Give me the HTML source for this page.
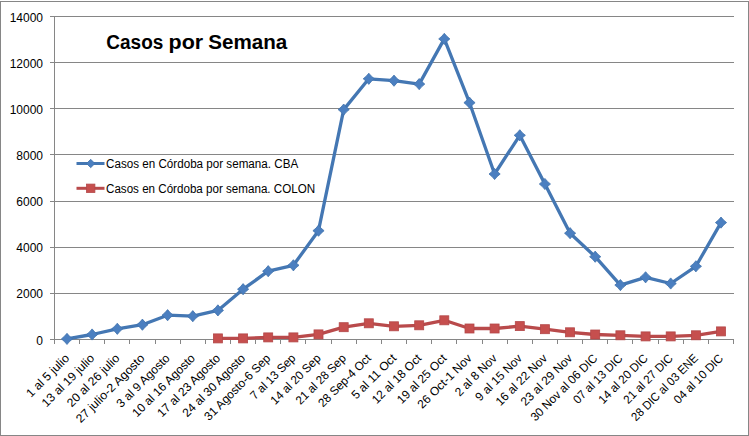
<!DOCTYPE html><html><head><meta charset="utf-8"><style>html,body{margin:0;padding:0;background:#fff;}svg{display:block;}text{font-family:"Liberation Sans",sans-serif;}</style></head><body>
<svg width="749" height="436" viewBox="0 0 749 436">
<rect x="0" y="0" width="749" height="436" fill="#fff"/>
<rect x="0.5" y="1.5" width="748" height="434" fill="none" stroke="#868686" stroke-width="1"/>
<g stroke="#868686" stroke-width="1" shape-rendering="crispEdges"><line x1="50" y1="339.5" x2="733.6" y2="339.5"/><line x1="50" y1="293.5" x2="733.6" y2="293.5"/><line x1="50" y1="247.5" x2="733.6" y2="247.5"/><line x1="50" y1="201.5" x2="733.6" y2="201.5"/><line x1="50" y1="154.5" x2="733.6" y2="154.5"/><line x1="50" y1="108.5" x2="733.6" y2="108.5"/><line x1="50" y1="62.5" x2="733.6" y2="62.5"/><line x1="50" y1="16.5" x2="733.6" y2="16.5"/><line x1="54.5" y1="16" x2="54.5" y2="344"/><line x1="54.5" y1="339" x2="54.5" y2="344"/><line x1="79.5" y1="339" x2="79.5" y2="344"/><line x1="104.5" y1="339" x2="104.5" y2="344"/><line x1="129.5" y1="339" x2="129.5" y2="344"/><line x1="155.5" y1="339" x2="155.5" y2="344"/><line x1="180.5" y1="339" x2="180.5" y2="344"/><line x1="205.5" y1="339" x2="205.5" y2="344"/><line x1="230.5" y1="339" x2="230.5" y2="344"/><line x1="255.5" y1="339" x2="255.5" y2="344"/><line x1="280.5" y1="339" x2="280.5" y2="344"/><line x1="305.5" y1="339" x2="305.5" y2="344"/><line x1="331.5" y1="339" x2="331.5" y2="344"/><line x1="356.5" y1="339" x2="356.5" y2="344"/><line x1="381.5" y1="339" x2="381.5" y2="344"/><line x1="406.5" y1="339" x2="406.5" y2="344"/><line x1="431.5" y1="339" x2="431.5" y2="344"/><line x1="456.5" y1="339" x2="456.5" y2="344"/><line x1="482.5" y1="339" x2="482.5" y2="344"/><line x1="507.5" y1="339" x2="507.5" y2="344"/><line x1="532.5" y1="339" x2="532.5" y2="344"/><line x1="557.5" y1="339" x2="557.5" y2="344"/><line x1="582.5" y1="339" x2="582.5" y2="344"/><line x1="607.5" y1="339" x2="607.5" y2="344"/><line x1="632.5" y1="339" x2="632.5" y2="344"/><line x1="658.5" y1="339" x2="658.5" y2="344"/><line x1="683.5" y1="339" x2="683.5" y2="344"/><line x1="708.5" y1="339" x2="708.5" y2="344"/><line x1="733.5" y1="339" x2="733.5" y2="344"/></g>
<text x="43" y="344.5" font-size="12" text-anchor="end" fill="#000">0</text>
<text x="43" y="298.4" font-size="12" text-anchor="end" fill="#000">2000</text>
<text x="43" y="252.2" font-size="12" text-anchor="end" fill="#000">4000</text>
<text x="43" y="206.1" font-size="12" text-anchor="end" fill="#000">6000</text>
<text x="43" y="159.9" font-size="12" text-anchor="end" fill="#000">8000</text>
<text x="43" y="113.8" font-size="12" text-anchor="end" fill="#000">10000</text>
<text x="43" y="67.6" font-size="12" text-anchor="end" fill="#000">12000</text>
<text x="43" y="21.5" font-size="12" text-anchor="end" fill="#000">14000</text>
<text transform="translate(70.0,359.0) rotate(-45)" font-size="12" text-anchor="end" textLength="55.3" lengthAdjust="spacingAndGlyphs" fill="#000">1 al 5 julio</text>
<text transform="translate(95.1,359.0) rotate(-45)" font-size="12" text-anchor="end" textLength="68.8" lengthAdjust="spacingAndGlyphs" fill="#000">13 al 19 julio</text>
<text transform="translate(120.3,359.0) rotate(-45)" font-size="12" text-anchor="end" textLength="68.8" lengthAdjust="spacingAndGlyphs" fill="#000">20 al 26 julio</text>
<text transform="translate(145.4,359.0) rotate(-45)" font-size="12" text-anchor="end" textLength="91.4" lengthAdjust="spacingAndGlyphs" fill="#000">27 julio-2 Agosto</text>
<text transform="translate(170.6,359.0) rotate(-45)" font-size="12" text-anchor="end" textLength="69.7" lengthAdjust="spacingAndGlyphs" fill="#000">3 al 9 Agosto</text>
<text transform="translate(195.8,359.0) rotate(-45)" font-size="12" text-anchor="end" textLength="83.2" lengthAdjust="spacingAndGlyphs" fill="#000">10 al 16 Agosto</text>
<text transform="translate(220.9,359.0) rotate(-45)" font-size="12" text-anchor="end" textLength="83.2" lengthAdjust="spacingAndGlyphs" fill="#000">17 al 23 Agosto</text>
<text transform="translate(246.1,359.0) rotate(-45)" font-size="12" text-anchor="end" textLength="83.2" lengthAdjust="spacingAndGlyphs" fill="#000">24 al 30 Agosto</text>
<text transform="translate(271.2,359.0) rotate(-45)" font-size="12" text-anchor="end" textLength="87.9" lengthAdjust="spacingAndGlyphs" fill="#000">31 Agosto-6 Sep</text>
<text transform="translate(296.4,359.0) rotate(-45)" font-size="12" text-anchor="end" textLength="58.5" lengthAdjust="spacingAndGlyphs" fill="#000">7 al 13 Sep</text>
<text transform="translate(321.5,359.0) rotate(-45)" font-size="12" text-anchor="end" textLength="65.3" lengthAdjust="spacingAndGlyphs" fill="#000">14 al 20 Sep</text>
<text transform="translate(346.7,359.0) rotate(-45)" font-size="12" text-anchor="end" textLength="65.3" lengthAdjust="spacingAndGlyphs" fill="#000">21 al 28 Sep</text>
<text transform="translate(371.8,359.0) rotate(-45)" font-size="12" text-anchor="end" textLength="69.1" lengthAdjust="spacingAndGlyphs" fill="#000">28 Sep-4 Oct</text>
<text transform="translate(397.0,359.0) rotate(-45)" font-size="12" text-anchor="end" textLength="57.7" lengthAdjust="spacingAndGlyphs" fill="#000">5 al 11 Oct</text>
<text transform="translate(422.2,359.0) rotate(-45)" font-size="12" text-anchor="end" textLength="64.4" lengthAdjust="spacingAndGlyphs" fill="#000">12 al 18 Oct</text>
<text transform="translate(447.3,359.0) rotate(-45)" font-size="12" text-anchor="end" textLength="64.4" lengthAdjust="spacingAndGlyphs" fill="#000">19 al 25 Oct</text>
<text transform="translate(472.5,359.0) rotate(-45)" font-size="12" text-anchor="end" textLength="71.0" lengthAdjust="spacingAndGlyphs" fill="#000">26 Oct-1 Nov</text>
<text transform="translate(497.6,359.0) rotate(-45)" font-size="12" text-anchor="end" textLength="53.7" lengthAdjust="spacingAndGlyphs" fill="#000">2 al 8 Nov</text>
<text transform="translate(522.8,359.0) rotate(-45)" font-size="12" text-anchor="end" textLength="60.4" lengthAdjust="spacingAndGlyphs" fill="#000">9 al 15 Nov</text>
<text transform="translate(547.9,359.0) rotate(-45)" font-size="12" text-anchor="end" textLength="67.2" lengthAdjust="spacingAndGlyphs" fill="#000">16 al 22 Nov</text>
<text transform="translate(573.1,359.0) rotate(-45)" font-size="12" text-anchor="end" textLength="67.2" lengthAdjust="spacingAndGlyphs" fill="#000">23 al 29 Nov</text>
<text transform="translate(598.2,359.0) rotate(-45)" font-size="12" text-anchor="end" textLength="88.8" lengthAdjust="spacingAndGlyphs" fill="#000">30 Nov al 06 DIC</text>
<text transform="translate(623.4,359.0) rotate(-45)" font-size="12" text-anchor="end" textLength="64.2" lengthAdjust="spacingAndGlyphs" fill="#000">07 al 13 DIC</text>
<text transform="translate(648.6,359.0) rotate(-45)" font-size="12" text-anchor="end" textLength="64.2" lengthAdjust="spacingAndGlyphs" fill="#000">14 al 20 DIC</text>
<text transform="translate(673.7,359.0) rotate(-45)" font-size="12" text-anchor="end" textLength="64.2" lengthAdjust="spacingAndGlyphs" fill="#000">21 al 27 DIC</text>
<text transform="translate(698.9,359.0) rotate(-45)" font-size="12" text-anchor="end" textLength="88.8" lengthAdjust="spacingAndGlyphs" fill="#000">28 DIC al 03 ENE</text>
<text transform="translate(724.0,359.0) rotate(-45)" font-size="12" text-anchor="end" textLength="64.2" lengthAdjust="spacingAndGlyphs" fill="#000">04 al 10 DIC</text>
<polyline points="67.0,338.9 92.1,334.5 117.3,328.8 142.4,324.7 167.6,315.2 192.8,316.2 217.9,310.4 243.1,289.2 268.2,271.2 293.4,265.3 318.5,230.7 343.7,109.6 368.8,78.8 394.0,80.7 419.2,84.1 444.3,38.9 469.5,102.7 494.6,174.0 519.8,135.3 544.9,184.0 570.1,233.2 595.2,256.7 620.4,285.1 645.6,277.3 670.7,283.5 695.9,266.3 721.0,222.6" fill="none" stroke="#4477B3" stroke-width="3.3" stroke-linejoin="round" stroke-linecap="round"/>
<polyline points="217.9,338.4 243.1,338.4 268.2,337.4 293.4,337.4 318.5,334.4 343.7,327.2 368.8,323.3 394.0,326.3 419.2,325.3 444.3,320.3 469.5,328.5 494.6,328.5 519.8,326.1 544.9,329.2 570.1,332.3 595.2,334.5 620.4,335.3 645.6,336.4 670.7,336.4 695.9,335.3 721.0,331.4" fill="none" stroke="#B94A4B" stroke-width="3.3" stroke-linejoin="round" stroke-linecap="round"/>
<path d="M67.0 333.3Q69.3 336.5 72.6 338.9Q69.3 341.3 67.0 344.5Q64.6 341.3 61.4 338.9Q64.6 336.5 67.0 333.3Z" fill="#4B7FC0" stroke="#4072AC" stroke-width="0.8"/>
<path d="M92.1 328.9Q94.5 332.1 97.7 334.5Q94.5 336.8 92.1 340.1Q89.8 336.8 86.5 334.5Q89.8 332.1 92.1 328.9Z" fill="#4B7FC0" stroke="#4072AC" stroke-width="0.8"/>
<path d="M117.3 323.2Q119.6 326.5 122.9 328.8Q119.6 331.2 117.3 334.4Q114.9 331.2 111.7 328.8Q114.9 326.5 117.3 323.2Z" fill="#4B7FC0" stroke="#4072AC" stroke-width="0.8"/>
<path d="M142.4 319.1Q144.8 322.3 148.0 324.7Q144.8 327.0 142.4 330.3Q140.1 327.0 136.8 324.7Q140.1 322.3 142.4 319.1Z" fill="#4B7FC0" stroke="#4072AC" stroke-width="0.8"/>
<path d="M167.6 309.6Q170.0 312.8 173.2 315.2Q170.0 317.5 167.6 320.8Q165.2 317.5 162.0 315.2Q165.2 312.8 167.6 309.6Z" fill="#4B7FC0" stroke="#4072AC" stroke-width="0.8"/>
<path d="M192.8 310.6Q195.1 313.8 198.4 316.2Q195.1 318.5 192.8 321.8Q190.4 318.5 187.2 316.2Q190.4 313.8 192.8 310.6Z" fill="#4B7FC0" stroke="#4072AC" stroke-width="0.8"/>
<path d="M217.9 304.8Q220.3 308.0 223.5 310.4Q220.3 312.7 217.9 316.0Q215.6 312.7 212.3 310.4Q215.6 308.0 217.9 304.8Z" fill="#4B7FC0" stroke="#4072AC" stroke-width="0.8"/>
<path d="M243.1 283.6Q245.4 286.8 248.7 289.2Q245.4 291.5 243.1 294.8Q240.7 291.5 237.5 289.2Q240.7 286.8 243.1 283.6Z" fill="#4B7FC0" stroke="#4072AC" stroke-width="0.8"/>
<path d="M268.2 265.6Q270.6 268.8 273.8 271.2Q270.6 273.5 268.2 276.8Q265.9 273.5 262.6 271.2Q265.9 268.8 268.2 265.6Z" fill="#4B7FC0" stroke="#4072AC" stroke-width="0.8"/>
<path d="M293.4 259.7Q295.7 262.9 299.0 265.3Q295.7 267.6 293.4 270.9Q291.0 267.6 287.8 265.3Q291.0 262.9 293.4 259.7Z" fill="#4B7FC0" stroke="#4072AC" stroke-width="0.8"/>
<path d="M318.5 225.1Q320.9 228.4 324.1 230.7Q320.9 233.1 318.5 236.3Q316.2 233.1 312.9 230.7Q316.2 228.4 318.5 225.1Z" fill="#4B7FC0" stroke="#4072AC" stroke-width="0.8"/>
<path d="M343.7 104.0Q346.0 107.2 349.3 109.6Q346.0 111.9 343.7 115.2Q341.3 111.9 338.1 109.6Q341.3 107.2 343.7 104.0Z" fill="#4B7FC0" stroke="#4072AC" stroke-width="0.8"/>
<path d="M368.8 73.2Q371.2 76.4 374.4 78.8Q371.2 81.1 368.8 84.4Q366.5 81.1 363.2 78.8Q366.5 76.4 368.8 73.2Z" fill="#4B7FC0" stroke="#4072AC" stroke-width="0.8"/>
<path d="M394.0 75.1Q396.4 78.3 399.6 80.7Q396.4 83.0 394.0 86.3Q391.6 83.0 388.4 80.7Q391.6 78.3 394.0 75.1Z" fill="#4B7FC0" stroke="#4072AC" stroke-width="0.8"/>
<path d="M419.2 78.5Q421.5 81.7 424.8 84.1Q421.5 86.5 419.2 89.7Q416.8 86.5 413.6 84.1Q416.8 81.7 419.2 78.5Z" fill="#4B7FC0" stroke="#4072AC" stroke-width="0.8"/>
<path d="M444.3 33.3Q446.7 36.5 449.9 38.9Q446.7 41.2 444.3 44.5Q442.0 41.2 438.7 38.9Q442.0 36.5 444.3 33.3Z" fill="#4B7FC0" stroke="#4072AC" stroke-width="0.8"/>
<path d="M469.5 97.1Q471.8 100.3 475.1 102.7Q471.8 105.0 469.5 108.3Q467.1 105.0 463.9 102.7Q467.1 100.3 469.5 97.1Z" fill="#4B7FC0" stroke="#4072AC" stroke-width="0.8"/>
<path d="M494.6 168.4Q497.0 171.7 500.2 174.0Q497.0 176.4 494.6 179.6Q492.3 176.4 489.0 174.0Q492.3 171.7 494.6 168.4Z" fill="#4B7FC0" stroke="#4072AC" stroke-width="0.8"/>
<path d="M519.8 129.7Q522.1 133.0 525.4 135.3Q522.1 137.7 519.8 140.9Q517.4 137.7 514.2 135.3Q517.4 133.0 519.8 129.7Z" fill="#4B7FC0" stroke="#4072AC" stroke-width="0.8"/>
<path d="M544.9 178.4Q547.3 181.6 550.5 184.0Q547.3 186.4 544.9 189.6Q542.6 186.4 539.3 184.0Q542.6 181.6 544.9 178.4Z" fill="#4B7FC0" stroke="#4072AC" stroke-width="0.8"/>
<path d="M570.1 227.6Q572.4 230.9 575.7 233.2Q572.4 235.6 570.1 238.8Q567.7 235.6 564.5 233.2Q567.7 230.9 570.1 227.6Z" fill="#4B7FC0" stroke="#4072AC" stroke-width="0.8"/>
<path d="M595.2 251.1Q597.6 254.4 600.8 256.7Q597.6 259.1 595.2 262.3Q592.9 259.1 589.6 256.7Q592.9 254.4 595.2 251.1Z" fill="#4B7FC0" stroke="#4072AC" stroke-width="0.8"/>
<path d="M620.4 279.5Q622.8 282.7 626.0 285.1Q622.8 287.4 620.4 290.7Q618.0 287.4 614.8 285.1Q618.0 282.7 620.4 279.5Z" fill="#4B7FC0" stroke="#4072AC" stroke-width="0.8"/>
<path d="M645.6 271.7Q647.9 274.9 651.2 277.3Q647.9 279.6 645.6 282.9Q643.2 279.6 640.0 277.3Q643.2 274.9 645.6 271.7Z" fill="#4B7FC0" stroke="#4072AC" stroke-width="0.8"/>
<path d="M670.7 277.9Q673.1 281.1 676.3 283.5Q673.1 285.8 670.7 289.1Q668.4 285.8 665.1 283.5Q668.4 281.1 670.7 277.9Z" fill="#4B7FC0" stroke="#4072AC" stroke-width="0.8"/>
<path d="M695.9 260.7Q698.2 264.0 701.5 266.3Q698.2 268.7 695.9 271.9Q693.5 268.7 690.3 266.3Q693.5 264.0 695.9 260.7Z" fill="#4B7FC0" stroke="#4072AC" stroke-width="0.8"/>
<path d="M721.0 217.0Q723.4 220.3 726.6 222.6Q723.4 225.0 721.0 228.2Q718.7 225.0 715.4 222.6Q718.7 220.3 721.0 217.0Z" fill="#4B7FC0" stroke="#4072AC" stroke-width="0.8"/>
<rect x="213.4" y="333.9" width="9.0" height="9.0" fill="#C64F4E" stroke="#B34849" stroke-width="0.8"/>
<rect x="238.6" y="333.9" width="9.0" height="9.0" fill="#C64F4E" stroke="#B34849" stroke-width="0.8"/>
<rect x="263.7" y="332.9" width="9.0" height="9.0" fill="#C64F4E" stroke="#B34849" stroke-width="0.8"/>
<rect x="288.9" y="332.9" width="9.0" height="9.0" fill="#C64F4E" stroke="#B34849" stroke-width="0.8"/>
<rect x="314.0" y="329.9" width="9.0" height="9.0" fill="#C64F4E" stroke="#B34849" stroke-width="0.8"/>
<rect x="339.2" y="322.7" width="9.0" height="9.0" fill="#C64F4E" stroke="#B34849" stroke-width="0.8"/>
<rect x="364.3" y="318.8" width="9.0" height="9.0" fill="#C64F4E" stroke="#B34849" stroke-width="0.8"/>
<rect x="389.5" y="321.8" width="9.0" height="9.0" fill="#C64F4E" stroke="#B34849" stroke-width="0.8"/>
<rect x="414.7" y="320.8" width="9.0" height="9.0" fill="#C64F4E" stroke="#B34849" stroke-width="0.8"/>
<rect x="439.8" y="315.8" width="9.0" height="9.0" fill="#C64F4E" stroke="#B34849" stroke-width="0.8"/>
<rect x="465.0" y="324.0" width="9.0" height="9.0" fill="#C64F4E" stroke="#B34849" stroke-width="0.8"/>
<rect x="490.1" y="324.0" width="9.0" height="9.0" fill="#C64F4E" stroke="#B34849" stroke-width="0.8"/>
<rect x="515.3" y="321.6" width="9.0" height="9.0" fill="#C64F4E" stroke="#B34849" stroke-width="0.8"/>
<rect x="540.4" y="324.7" width="9.0" height="9.0" fill="#C64F4E" stroke="#B34849" stroke-width="0.8"/>
<rect x="565.6" y="327.8" width="9.0" height="9.0" fill="#C64F4E" stroke="#B34849" stroke-width="0.8"/>
<rect x="590.7" y="330.0" width="9.0" height="9.0" fill="#C64F4E" stroke="#B34849" stroke-width="0.8"/>
<rect x="615.9" y="330.8" width="9.0" height="9.0" fill="#C64F4E" stroke="#B34849" stroke-width="0.8"/>
<rect x="641.1" y="331.9" width="9.0" height="9.0" fill="#C64F4E" stroke="#B34849" stroke-width="0.8"/>
<rect x="666.2" y="331.9" width="9.0" height="9.0" fill="#C64F4E" stroke="#B34849" stroke-width="0.8"/>
<rect x="691.4" y="330.8" width="9.0" height="9.0" fill="#C64F4E" stroke="#B34849" stroke-width="0.8"/>
<rect x="716.5" y="326.9" width="9.0" height="9.0" fill="#C64F4E" stroke="#B34849" stroke-width="0.8"/>
<text x="106.3" y="48.5" font-size="20" font-weight="bold" textLength="57.0" lengthAdjust="spacingAndGlyphs" fill="#000">Casos</text>
<text x="168.6" y="48.5" font-size="20" font-weight="bold" textLength="34.6" lengthAdjust="spacingAndGlyphs" fill="#000">por</text>
<text x="208.3" y="48.5" font-size="20" font-weight="bold" textLength="79.0" lengthAdjust="spacingAndGlyphs" fill="#000">Semana</text>
<line x1="76.5" y1="163.5" x2="104.5" y2="163.5" stroke="#4477B3" stroke-width="3"/>
<path d="M90.7 159.3L94.9 163.5L90.7 167.7L86.5 163.5Z" fill="#4B7FC0" stroke="#4072AC" stroke-width="0.8"/>
<text x="106" y="167.7" font-size="12" textLength="192.2" lengthAdjust="spacingAndGlyphs" fill="#000">Casos en Córdoba por semana. CBA</text>
<line x1="76.5" y1="188.3" x2="104.5" y2="188.3" stroke="#B94A4B" stroke-width="3"/>
<rect x="86.5" y="184.10000000000002" width="8.4" height="8.4" fill="#C64F4E" stroke="#B34849" stroke-width="0.8"/>
<text x="106" y="192.5" font-size="12" textLength="209.1" lengthAdjust="spacingAndGlyphs" fill="#000">Casos en Córdoba por semana. COLON</text>
</svg></body></html>
